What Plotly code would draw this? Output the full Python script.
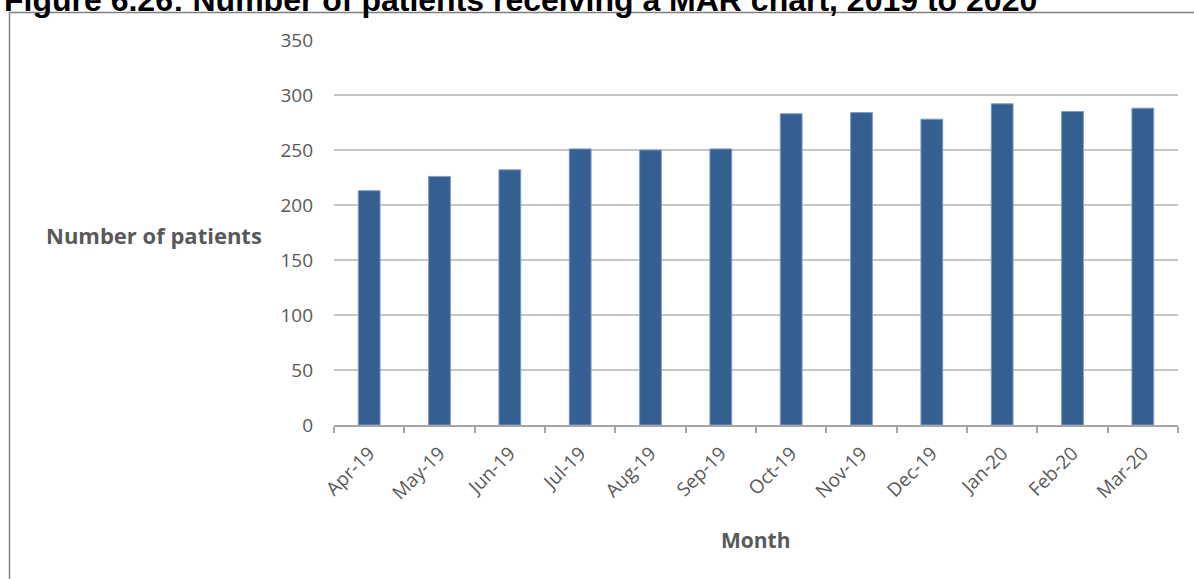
import plotly.graph_objects as go

months = ["Apr-19", "May-19", "Jun-19", "Jul-19", "Aug-19", "Sep-19",
          "Oct-19", "Nov-19", "Dec-19", "Jan-20", "Feb-20", "Mar-20"]
patients = [213, 226, 232, 251, 250, 251, 283, 284, 278, 292, 285, 288]
y_ticks = [0, 50, 100, 150, 200, 250, 300, 350]

W, H = 1194, 579
L, R, T, B = 334, 16, 40, 154
pw, ph = W - L - R, H - T - B

def px(x):
    return (x - L) / pw

def py(y):
    return (H - B - y) / ph

FONT = "Open Sans, Lato, sans-serif"

fig = go.Figure()
fig.add_trace(go.Bar(
    x=months, y=patients,
    marker=dict(color="#355F91", line=dict(color="#7f9cc4", width=1)),
    width=0.31,
))

fig.update_layout(
    width=W, height=H,
    margin=dict(l=L, r=R, t=T, b=B),
    paper_bgcolor="white", plot_bgcolor="white",
    showlegend=False,
    font=dict(family=FONT, color="#595959", size=19),
    xaxis=dict(
        type="category",
        tickangle=-45,
        tickson="boundaries",
        ticks="outside", ticklen=6, tickcolor="#a6a6a6", tickwidth=1.5,
        showline=True, linecolor="#a6a6a6", linewidth=1.5,
        showgrid=False,
        ticklabelstandoff=8,
        tickfont=dict(size=19, color="#595959"),
    ),
    yaxis=dict(
        range=[0, 350],
        tickvals=y_ticks,
        showgrid=True, gridcolor="#c6c6c6", gridwidth=1.5,
        zeroline=False,
        ticks="", ticklabelstandoff=20,
        tickfont=dict(size=19, color="#595959"),
    ),
    annotations=[
        dict(text="<b>Number of patients</b>", xref="paper", yref="paper",
             x=px(264), y=py(235), xanchor="right", yanchor="middle",
             showarrow=False, font=dict(family=FONT, size=22, color="#595959")),
        dict(text="<b>Month</b>", xref="paper", yref="paper",
             x=px(756), y=py(540), xanchor="center", yanchor="middle",
             showarrow=False, font=dict(family=FONT, size=21, color="#595959")),
        dict(text="<b>Figure 6.26: Number of patients receiving a MAR chart, 2019 to 2020</b>",
             xref="paper", yref="paper",
             x=px(2), y=py(20), xanchor="left", yanchor="bottom",
             showarrow=False,
             font=dict(family="Liberation Sans, Arial, sans-serif", size=32, color="#000000")),
    ],
    shapes=[
        dict(type="line", xref="paper", yref="paper",
             x0=px(9), x1=px(1194), y0=py(12.5), y1=py(12.5),
             line=dict(color="#7f7f7f", width=1.5)),
        dict(type="line", xref="paper", yref="paper",
             x0=px(9.5), x1=px(9.5), y0=py(12), y1=py(579),
             line=dict(color="#7f7f7f", width=1.5)),
    ],
)

fig.write_html("out.html", config={"displayModeBar": False},
               post_script="document.body.style.margin='0';")
